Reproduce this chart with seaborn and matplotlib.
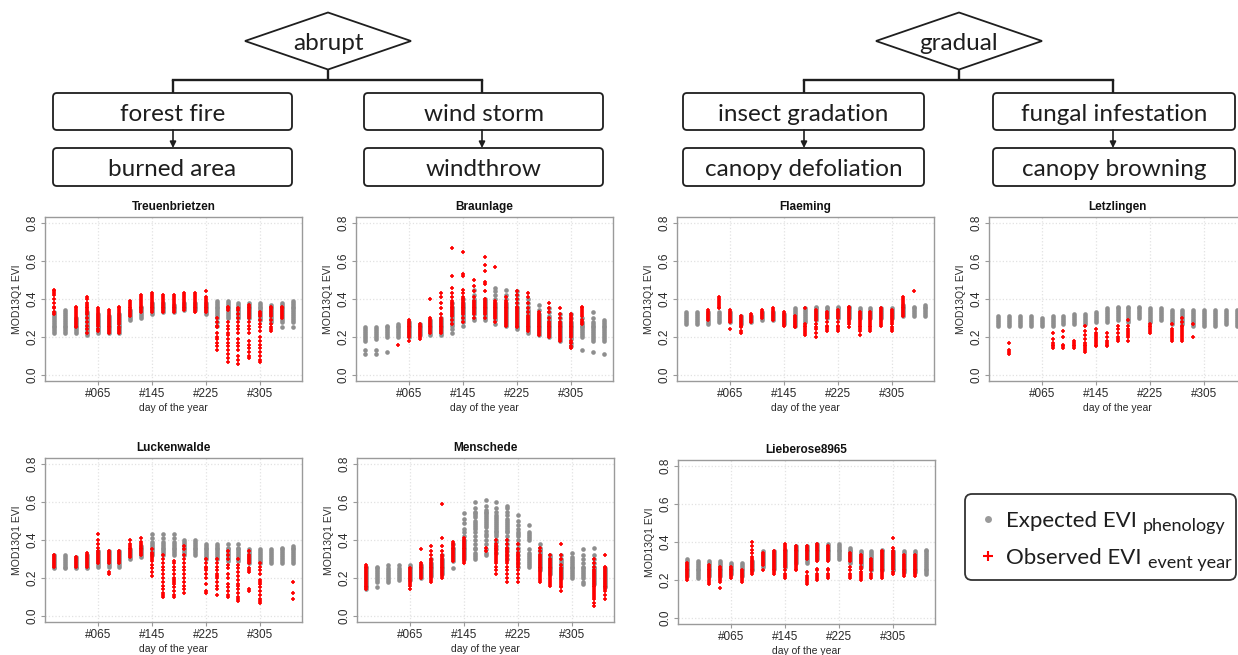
import matplotlib
matplotlib.use("Agg")
import matplotlib.pyplot as plt
import seaborn as sns
import pandas as pd
from matplotlib.patches import Polygon, FancyBboxPatch

# ---------------- data ----------------
DOY = [1, 17, 33, 49, 65, 81, 97, 113, 129, 145, 161, 177, 193, 209, 225,
       241, 257, 273, 289, 305, 321, 337, 353]
XTICKS = [65, 145, 225, 305]
XTICK_LABELS = ["#065", "#145", "#225", "#305"]
YTICKS = [0.0, 0.2, 0.4, 0.6, 0.8]
YTICK_LABELS = ["0.0", "0.2", "0.4", "0.6", "0.8"]

# EVI values in hundredths, one string per 16-day composite (DOY)
TRE_EXP = [
    "22 23 24 25 26 27 28 29 30 31 32 33", "22 23 24 25 26 27 28 29 30 31 32 33 34",
    "22 23 24 25 26 27 28 29 30", "21 22 23 24 25 26 27 28 29 30 31 32 33",
    "22 23 24 25 26 27 28 29 30 31 32", "22 23 24 25 26 27 28 29 30 31",
    "22 23 24 25 26 27 28 29 30 31 32", "29 30 31 32 33 34", "30 31 32 33 34 35 36",
    "32 33 34 35 36 37 38", "33 34 35 36 37 38", "33 34 35 36 37", "34 35 36 37 38",
    "34 35 36 37 38", "32 33 34 35 36 37 38", "26 28 30 31 32 33 34 35 36 37 38 39",
    "30 31 32 33 34 35 36 37 38 39", "30 31 32 33 34 35 36 37 38",
    "30 31 32 33 34 35 36 37 38", "29 30 31 32 33 34 35 36 37 38",
    "28 29 30 31 32 33 34 35 36 37", "25 28 29 30 31 32 33 34 35 36 37 38",
    "25 28 29 30 31 32 33 34 35 36 37 38 39"]
TRE_OBS = [
    "32 33 35 36 38 40 42 43 44 45", "", "25 26 27 28 29 30 31 32 33 34 35 36",
    "22 24 26 28 30 32 33 34 35 36 37 38 40 41", "23 24 26 27 28 29 30 31 32 33 34 35",
    "22 23 24 25 26 27 28 29 30 31 32 33 34", "22 23 24 25 27 28 29 30 31 32 33 34 35 36",
    "31 32 33 34 35 36 37 38 39", "33 34 35 36 37 38 39 40 41 42",
    "33 34 35 36 37 38 39 40 41 42 43", "33 34 35 36 37 38 39 40 41 42",
    "33 34 35 36 37 38 39 40 41 42", "34 35 36 37 38 39 40 41 42 43",
    "33 34 35 36 37 38 39 40 41 42 43", "33 34 35 36 37 38 39 40 41 44",
    "13 15 17 19 20 22 25 26 28 30", "07 09 11 13 15 17 19 21 22 24 26 28 34 35 36",
    "06 08 10 13 15 17 19 22 24 26 28 30 32 34 35",
    "09 10 12 14 16 18 22 24 26 28 30 31 32 33 34 35 36 37",
    "07 08 10 12 14 16 18 20 23 25 27 29 31 32 33", "23 24 25 27 29 31 32 33 34 35 36",
    "30 31 32 33 34 35 36", ""]

BRA_EXP = [
    "11 13 18 19 20 21 22 23 24 25", "11 13 19 20 21 22 23 24 25", "12 20 21 22 23 24 25 26",
    "20 21 22 23 24 25 26 27", "20 21 22 23 24 25 26 27 28", "21 22 23 24 25 26 27",
    "21 22 23 24 25 26 27 28 29", "21 22 23 24 25 26 27 28 29 30",
    "22 24 26 27 28 29 30 31 32 33 34 35 36 38", "26 28 29 30 31 32 33 34 35 36 37 38 40",
    "29 30 32 33 34 35 36 37 38 39 40 42 45", "29 30 31 32 33 34 35 36 37 38 39 40",
    "27 29 30 31 32 33 34 35 36 37 38 40 42 44 46",
    "26 27 28 29 30 31 32 33 34 35 36 37 38 40 42 45",
    "24 25 26 27 28 29 30 31 32 33 34 35 36 38 40 42 44",
    "22 23 24 25 26 27 28 29 30 31 32 33 34 36 38 40",
    "21 22 23 24 25 26 27 28 29 30 31 32 34 37", "20 21 22 23 24 25 26 27 28 29 30 31 33 35",
    "18 19 20 21 22 23 24 25 26 27 28 30 32", "15 17 19 20 21 22 23 24 25 26 27 28 30 32",
    "13 20 21 22 23 24 25 26 27 28 30", "12 18 19 20 21 22 23 24 25 26 27 28 30 33",
    "11 18 19 20 21 22 23 24 25 26 27 28 29"]
BRA_OBS = [
    "", "", "", "16", "18 20 21 22 23 24 25 26 27 28 29", "19 20 21 22 23 24 25 26 27",
    "22 23 24 25 26 27 28 29 30 40", "22 23 24 25 26 27 28 29 30 32 35 38 41 43",
    "27 29 31 32 33 34 35 36 37 38 39 41 43 46 52 67",
    "28 30 32 33 34 35 36 37 38 39 40 41 43 45 52 53 65",
    "30 32 33 34 35 36 37 38 39 41 44 47 50",
    "30 32 33 34 35 36 37 38 39 40 44 48 49 55 58 62", "28 30 31 32 33 34 35 36 37 38 39 57",
    "26 27 28 29 30 31 32 33 34 35 36 37 38 39 41",
    "25 26 27 28 29 30 31 32 33 34 35 36 38 40 42 44",
    "23 24 25 26 27 28 29 30 31 33 35 38 41 43", "21 22 23 24 25 26 27 28 29 30 31 32 33",
    "20 21 22 23 24 25 26 27 28 30 33 35 38", "18 19 20 21 22 23 24 25 26 27 28 30 32 35",
    "14 15 17 18 20 21 22 23 24 25 26 27 28 29 30 31 32", "27 28 29 31 32 33 34 35 36",
    "", ""]

FLA_EXP = [
    "27 28 29 30 31 32 33", "27 28 29 30 31 32 33", "27 28 29 30 31 32 33", "28 29 30 31 32 33",
    "28 29 30 31 32 33", "27 28 29 30 31", "28 29 30 31", "29 30 31 32 33", "29 30 31 32 33",
    "27 28 29 30 31 32", "26 27 28 29 30 31 32 33 34 35", "28 29 30 31 32 33 34 35",
    "29 30 31 32 33 34 35 36", "30 31 32 33 34 35 36", "30 31 32 33 34 35 36",
    "30 31 32 33 34 35 36", "30 31 32 33 34 35", "30 31 32 33 34 35", "30 31 32 33 34 35",
    "30 31 32 33 34 35", "31 32 33 34 35 36 37", "31 32 33 34 35 36", "31 32 33 34 35 36 37"]
FLA_OBS = [
    "", "", "29 30 31 32 33 34", "35 36 37 38 39 40 41", "24 28 29 30 31 32 33 34",
    "22 23 25 26 27 28 29 30 31", "28 29 30 31 32", "30 31 32 33 34", "29 30 31 32 33 34 35",
    "26 27 28 29 30 31 32 33", "25 26 27 28 29 30 31", "21 22 23 24 25 26 27 35",
    "20 22 24 25 27 29 30 31 32 33 34", "23 24 25 26 28 30 31 32 33",
    "23 24 25 26 28 30 31 32 33 34", "25 27 28 29 30 31 32 33 34 35 36",
    "21 23 24 25 26 27 28 29 30 31 32 33", "23 24 25 26 27 28 29 30 31 32 33",
    "26 27 28 29 30 31 32 33 34 35", "23 24 25 27 28 29 30 31 32 33 34",
    "31 32 33 34 35 36 37 38 39 40 41", "44", ""]

LET_EXP = [
    "26 27 28 29 30 31", "26 27 28 29 30 31", "26 27 28 29 30 31", "26 27 28 29 30 31",
    "26 27 28 29 30", "26 27 28 29 30 31", "27 28 29 30 31", "27 28 29 30 31 32",
    "27 28 29 30 31 32", "28 29 30 31 32 33", "28 29 30 31 32 33 34 35",
    "29 30 31 32 33 34 35 36", "28 29 30 31 32 33 34 35 36", "30 31 32 33 34 35 36",
    "28 29 30 31 32 33 34 35", "29 30 31 32 33 34 35", "27 28 29 30 31 32 33 34",
    "27 28 29 30 31 32 33 34", "26 27 28 29 30 31 32 33 34", "26 27 28 29 30 31 32 33 34",
    "26 27 28 29 30 31 32 33 34", "27 28 29 30 31 32 33 34", "26 27 28 29 30 31 32 33 34"]
LET_OBS = [
    "", "11 12 13 17", "", "", "", "14 15 16 17 19 22", "14 15 16 20 23", "14 15 16 17 18",
    "12 13 14 15 16 17 19 21 23 26", "15 16 17 18 19 20 21 22 24", "15 16 17 18 20 22",
    "18 19 20 22 24 26", "18 20 21 22 23 24 26 29", "", "22 23 24 25 26 27", "",
    "18 19 20 21 22 23 24 27", "18 19 20 21 22 23 24 25 26 28 30", "20 27", "", "", "", ""]

LUC_EXP = [
    "25 26 27 28 29 30 31 32", "25 26 27 28 29 30 31 32", "25 26 27 28 29 30 31",
    "25 26 27 28 29 30 31 32", "26 27 28 29 30 31 32 33 34", "26 27 28 29 30 31 32 33 34",
    "26 27 28 29 30 31 32 33 34", "30 31 32 33 34 35", "31 32 33 34 35 36 37",
    "32 33 34 35 36 37 38 39 41 43", "32 33 34 35 36 37 38 39 41 43",
    "32 33 34 35 36 37 38 39 41 43", "32 33 34 35 36 37 38 39 40", "32 33 34 35 36 37 38 39 40",
    "30 31 32 33 34 35 36 37 38", "30 31 32 33 34 35 36 37 38", "29 30 31 32 33 34 35 36 38",
    "29 30 31 32 33 34 35 36 38", "28 29 30 31 32 33 34 35", "28 29 30 31 32 33 34 35",
    "28 29 30 31 32 33 34 35", "28 29 30 31 32 33 34 35 36", "28 29 30 31 32 33 34 35 36 37"]
LUC_OBS = [
    "26 27 28 29 30 31 32", "", "26 27 28 29 30 31", "26 27 28 29 30 31 32 33",
    "28 29 30 31 32 33 34 36 38 40 43", "22 23 28 29 30 31 32 33 34", "28 29 30 31 32 33 34",
    "31 32 33 34 35 36 37 38 40", "32 33 34 35 36 37 38 39 41", "21 23 25 27 29 30 31 32 33 35",
    "10 11 12 14 16 18 20 22 24 26 28 30 32", "10 11 13 15 17 18 19 20 22 24 26 28 29",
    "12 14 16 18 20 22 24 26 28 30 32 35 37", "", "12 13 17 20 22 24 25 26 28 30",
    "11 14 16 18 20 21 22 24 26 28 30", "10 11 13 15 17 20 22 25 27 30 32 34",
    "08 09 10 12 14 16 17 19 21 23 25 27 30", "13 14 23 24 25 28 29 30 31 32 34",
    "07 08 09 11 13 15 17 18 19 22 24 26 28", "", "", "09 12 18"]

MEN_EXP = [
    "14 15 16 17 18 19 20 21 22 23 24 25 26", "15 18 19 20 21 22 23 24 25 26",
    "18 19 20 21 22 23 24 25 27", "19 20 21 22 23 24 25 27", "19 20 21 22 23 24 25 26 27",
    "20 21 22 23 24 25 26 27", "21 22 23 24 25 26 27 28 30", "22 23 24 25 26 27 28 29 30 32",
    "25 29 30 31 32 33 34 35 36 38", "30 31 32 33 34 35 36 37 38 39 40 42 44 46 49 51 54",
    "30 31 32 33 35 36 38 40 42 44 46 47 48 49 50 52 53 54 55 57 60",
    "32 33 35 38 40 42 43 45 47 48 49 50 51 52 53 54 55 56 58 61",
    "33 35 37 39 40 42 43 44 45 46 47 48 49 50 51 52 53 55 57 60",
    "30 32 34 36 38 40 42 44 45 46 47 48 49 50 51 53 55 57 58",
    "26 28 30 32 34 36 38 40 42 43 44 46 48 50 53",
    "26 27 28 29 30 31 32 33 35 40 41 42 43 44 48",
    "24 25 26 27 28 29 30 31 32 33 34 35 36 38", "22 23 24 25 26 27 28 29 30 31 32",
    "20 21 22 23 24 25 26 27 28 29 30 32", "20 21 22 23 24 25 26 27 28 29 30 31 33",
    "17 18 20 21 22 23 24 25 26 28 30 32 35", "17 18 19 20 21 22 23 24 25 26 28 30 32 36",
    "15 16 17 18 19 20 21 22 23 24 25"]
MEN_OBS = [
    "14 15 16 17 18 19 20 21 22 23 24 25 26 27", "", "", "", "14 16 17 18 19 20 21 22 23 24 25",
    "20 21 22 23 24 25 26 27 28 35", "18 19 20 21 22 23 24 25 26 27 28 29 30 32 34 37",
    "20 21 22 23 24 25 26 27 28 29 30 31 32 34 37 41 59", "29 30 31 32 33 34 35 36 37 38 39",
    "28 29 30 31 32 33 34 35 36 37 38 39 40 41", "", "34 36",
    "22 24 26 28 29 30 31 32 33 34 35 36 37 38 40",
    "18 20 22 24 26 28 29 30 31 32 33 34 35 36 38 40",
    "18 20 22 24 26 27 28 29 30 31 32 33 35 38", "",
    "18 19 20 21 22 23 24 25 26 27 28 29 30 31 32 34 36",
    "16 17 18 19 20 21 22 23 24 25 26 27 28 29 30 32",
    "13 15 16 17 18 19 20 21 22 23 24 25 27 30 32 38", "", "",
    "05 07 09 10 11 12 13 14 15 16 17 18 19 20 21 22 23 24 26 28 30",
    "09 11 13 14 15 16 17 18 19 20 21 22 23 24 25 26 32"]

LIE_EXP = [
    "22 23 24 25 26 27 28 29 30 31", "21 22 23 24 25 26 27 28 29 30", "22 23 24 25 26 27 28 29 30",
    "22 23 24 25 26 27 28 29 30", "23 24 25 26 27 28 29", "22 23 24 25 26 27 28 29",
    "25 26 27 28 29 30", "27 28 29 30 31 32 33 34 35", "26 27 28 29 30 31 32 33 34 35",
    "27 28 29 30 31 32 33 34 35 36", "29 30 31 32 33 34 35 36 37 38",
    "29 30 31 32 33 34 35 36 37 38", "31 32 33 34 35 36 37 38 39", "31 32 33 34 35 36 37 38 39",
    "31 32 33 34 35 36 37 38 39", "29 30 31 32 33 34 35 36 37", "27 28 29 30 31 32 33 34 35",
    "25 26 27 28 29 30 31 32 33 34 35", "25 26 27 28 29 30 31 32 33 34 35 36",
    "25 26 27 28 29 30 31 32 33 34 35", "24 25 26 27 28 29 30 31 32 33 34 35",
    "24 25 26 27 28 29 30 31 32 33 34 35", "23 24 25 26 27 28 29 30 31 32 33 34 35 36"]
LIE_OBS = [
    "20 21 22 23 24 25 26 27 28 29", "", "18 19 20 21 22 23 24 25 26 27 28",
    "16 19 20 21 22 23 24 25 26 27", "21 22 23 24 25 26 27", "19 20 21 22 23 24 25",
    "23 24 25 26 27 28 29 30 31 32 34 36 38 40", "25 28 29 30 31 32 33 34",
    "23 24 25 26 27 28 29 30 31 32 33 34 35",
    "21 22 23 25 27 28 29 30 31 32 33 34 35 36 37 38 39",
    "25 26 27 28 29 30 31 32 33 34 35 36 37 38", "18 19 20 21 22 24 31 32 33 34 35 36 37 38",
    "20 21 22 23 25 26 30 31 32 33 34 35 36 37 38 39",
    "21 22 23 25 26 30 31 32 33 34 35 36 37 38", "", "21 22 23 25 27 30 31 32 33 34",
    "20 21 22 23 24 26 27 29 30 31 32 33", "21 22 23 25 26 27 28 29 30 31",
    "21 22 23 24 25 26 27 28 29 30 31 32 33 34 35",
    "23 24 26 27 28 29 30 31 32 33 34 35 37 42", "22 23 24 25 26 27 28 29 30 31 32 33",
    "22 23 24 25 26 27 28 29 30 31 32 33", ""]

SITES = ["Treuenbrietzen", "Braunlage", "Flaeming", "Letzlingen",
         "Luckenwalde", "Menschede", "Lieberose8965"]
EXPECTED = [TRE_EXP, BRA_EXP, FLA_EXP, LET_EXP, LUC_EXP, MEN_EXP, LIE_EXP]
OBSERVED = [TRE_OBS, BRA_OBS, FLA_OBS, LET_OBS, LUC_OBS, MEN_OBS, LIE_OBS]

# flowchart texts
TOP_NODES = ["abrupt", "gradual"]
CAUSES = ["forest fire", "wind storm", "insect gradation", "fungal infestation"]
EFFECTS = ["burned area", "windthrow", "canopy defoliation", "canopy browning"]
LEG_MAIN = ["Expected EVI", "Observed EVI"]
LEG_SUB = ["phenology", "event year"]


def to_frame(cols):
    rows = []
    for d, s in zip(DOY, cols):
        for v in s.split():
            rows.append((d, int(v) / 100.0))
    return pd.DataFrame(rows, columns=["doy", "evi"])


# ---------------- figure ----------------
sns.set_theme(style="white")
plt.rcParams["font.family"] = ["Liberation Sans", "DejaVu Sans"]

W, H = 1238, 655
fig = plt.figure(figsize=(W / 100, H / 100), dpi=100)
fig.patch.set_facecolor("white")

GRAY = "#8e8e8e"
RED = "#ff0000"
FRAME = "#9a9a9a"
INK = "#1e1e1e"

# overlay for flowchart & legend (pixel coordinates, y downwards)
ov = fig.add_axes([0, 0, 1, 1], zorder=0)
ov.set_xlim(0, W)
ov.set_ylim(H, 0)
ov.axis("off")

FC_FONT = dict(family=["Lato", "DejaVu Sans"], fontsize=17.5, color=INK)

def node_box(x0, y0, x1, y1, text):
    ov.add_patch(FancyBboxPatch((x0, y0), x1 - x0, y1 - y0,
                                boxstyle="round,pad=0,rounding_size=4",
                                fc="white", ec=INK, lw=1.3))
    ov.text((x0 + x1) / 2, (y0 + y1) / 2 + 1, text, ha="center",
            va="center_baseline", **FC_FONT)

groups = [  # diamond centre x, left/right child centre x, child boxes
    (328, (173, 482), [(53, 292), (364, 603)]),
    (959, (804, 1113), [(683, 924), (993, 1235)]),
]
for gi, (cx, (lx, rx), boxes) in enumerate(groups):
    cy, hw, hh = 41, 83, 28.5
    ov.add_patch(Polygon([(cx - hw, cy), (cx, cy - hh), (cx + hw, cy), (cx, cy + hh)],
                         closed=True, fc="white", ec=INK, lw=1.3))
    ov.text(cx, cy + 1, TOP_NODES[gi], ha="center", va="center_baseline", **FC_FONT)
    ov.plot([cx, cx], [cy + hh, 80], color=INK, lw=1.7, solid_capstyle="butt")
    ov.plot([lx, rx], [80, 80], color=INK, lw=1.7, solid_capstyle="projecting")
    for k, (bx0, bx1) in enumerate(boxes):
        mx = (lx, rx)[k]
        ov.plot([mx, mx], [80, 93], color=INK, lw=1.7, solid_capstyle="butt")
        node_box(bx0, 93, bx1, 130, CAUSES[2 * gi + k])
        ov.annotate("", xy=(mx, 148), xytext=(mx, 130),
                    arrowprops=dict(arrowstyle="-|>", color=INK, lw=1.2,
                                    mutation_scale=9, shrinkA=0, shrinkB=0))
        node_box(bx0, 148, bx1, 186, EFFECTS[2 * gi + k])

# legend box
ov.add_patch(FancyBboxPatch((965, 494), 271, 86,
                            boxstyle="round,pad=0,rounding_size=7",
                            fc="white", ec="#333333", lw=1.3))
ov.plot([988], [519], marker="o", ms=5, color="#9a9a9a", mew=0)
ov.plot([988], [556], marker="+", ms=7, color=RED, mew=1.5)
LEG_FONT = ["Lato", "DejaVu Sans"]
main_texts = []
for i, yb in enumerate([527, 564]):
    t = ov.text(1006, yb, LEG_MAIN[i], ha="left", va="baseline",
                family=LEG_FONT, fontsize=16, color=INK)
    main_texts.append((t, yb))

# ---------------- panels ----------------
PANEL_POS = [(45, 217), (356, 217), (677, 217), (989, 217),
             (45, 458), (357, 458), (678, 460)]
PW, PH = 257, 164

for name, exp, obs, (px, py) in zip(SITES, EXPECTED, OBSERVED, PANEL_POS):
    ax = fig.add_axes([px / W, 1 - (py + PH) / H, PW / W, PH / H], zorder=2)
    ax.set_facecolor("white")
    dfe = to_frame(exp)
    dfo = to_frame(obs)
    sns.scatterplot(data=dfe, x="doy", y="evi", color=GRAY, s=11, linewidth=0,
                    marker="o", ax=ax, legend=False, zorder=3)
    if len(dfo):
        sns.scatterplot(data=dfo, x="doy", y="evi", color=RED, s=12,
                        linewidth=1.2, marker="+", ax=ax, legend=False, zorder=4)
    ax.set_xlim(-13, 367)
    ax.set_ylim(-0.032, 0.832)
    ax.set_xticks(XTICKS)
    ax.set_xticklabels(XTICK_LABELS)
    ax.set_yticks(YTICKS)
    ax.set_yticklabels(YTICK_LABELS, rotation=90, va="center")
    ax.grid(True, color="#e2e2e2", linestyle=":", linewidth=0.9, zorder=0)
    ax.set_axisbelow(True)
    for sp in ax.spines.values():
        sp.set_color(FRAME)
        sp.set_linewidth(1.0)
    ax.tick_params(axis="both", length=3, width=0.8, color=FRAME,
                   labelsize=8.5, labelcolor="#2a2a2a", pad=2,
                   bottom=True, left=True)
    ax.set_xlabel("day of the year", fontsize=7.5, color="#2a2a2a", labelpad=2)
    ax.set_ylabel("MOD13Q1 EVI", fontsize=7.5, color="#2a2a2a", labelpad=3)
    ax.set_title(name, fontsize=8.5, fontweight="bold", color="#111111", pad=5)

# subscripts placed right after the measured legend texts
fig.canvas.draw()
renderer = fig.canvas.get_renderer()
for i, (t, yb) in enumerate(main_texts):
    bb = t.get_window_extent(renderer)
    ov.text(bb.x1 + 6, yb + 4, LEG_SUB[i], ha="left", va="baseline",
            family=LEG_FONT, fontsize=13, color=INK)

fig.savefig("out.png", dpi=100, facecolor="white")
